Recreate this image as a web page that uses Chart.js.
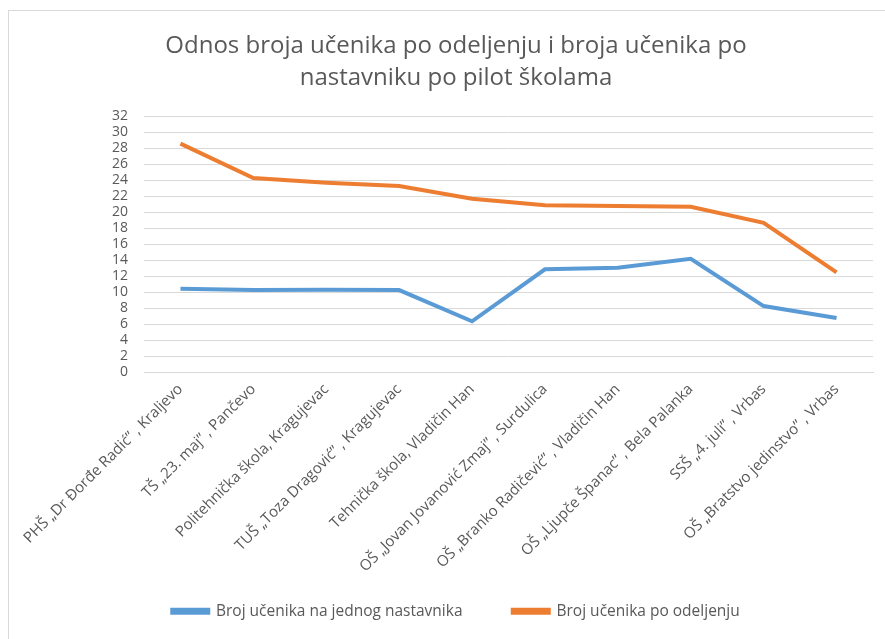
<!DOCTYPE html>
<html>
<head>
<meta charset="utf-8">
<script src="https://cdn.jsdelivr.net/npm/chart.js@4/dist/chart.umd.min.js"></script>
<style>
	html, body { margin: 0; padding: 0; background: #fff; }
	#wrap { position: relative; width: 885px; height: 639px; overflow: hidden; }
	#frame { position: absolute; left: 8px; top: 10px; width: 900px; height: 660px; border: 1px solid #d9d9d9; box-sizing: border-box; }
	canvas { position: absolute; left: 0; top: 0; }
</style>
</head>
<body>
<div id="wrap">
	<div id="frame"></div>
	<canvas id="myChart" width="885" height="639"></canvas>
</div>
<script>
let schools = [
	'PHŠ „Dr Đorđe Radić" , Kraljevo',
	'TŠ „23. maj" , Pančevo',
	'Politehnička škola, Kragujevac',
	'TUŠ „Toza Dragović" , Kragujevac',
	'Tehnička škola, Vladičin Han',
	'OŠ „Jovan Jovanović Zmaj" , Surdulica',
	'OŠ „Branko Radičević" , Vladičin Han',
	'OŠ „Ljupče Španac" , Bela Palanka',
	'SSŠ „4. juli" , Vrbas',
	'OŠ „Bratstvo jedinstvo" , Vrbas'
].map(s => s.replace(/"/g, '\u201D'));
let perTeacher = [10.45, 10.3, 10.35, 10.3, 6.4, 12.9, 13.1, 14.2, 8.3, 6.8];
let perClass = [28.6, 24.3, 23.7, 23.3, 21.7, 20.9, 20.8, 20.7, 18.7, 12.5];
let yTicks = [0, 2, 4, 6, 8, 10, 12, 14, 16, 18, 20, 22, 24, 26, 28, 30, 32];

let gray = '#595959';
let font = 'Open Sans';

function createChart() {
	let ctx = document.getElementById('myChart');
	new Chart(ctx, {
		type: 'line',
		data: {
			labels: schools,
			datasets: [{
				label: 'Broj učenika na jednog nastavnika',
				data: perTeacher,
				borderColor: '#5B9BD5',
				backgroundColor: '#5B9BD5',
				borderWidth: 4,
				pointRadius: 0,
				tension: 0
			}, {
				label: 'Broj učenika po odeljenju',
				data: perClass,
				borderColor: '#ED7D31',
				backgroundColor: '#ED7D31',
				borderWidth: 4,
				pointRadius: 0,
				tension: 0
			}]
		},
		options: {
			responsive: false,
			animation: false,
			layout: { padding: { left: 39, right: 12, top: 31, bottom: 10 } },
			plugins: {
				title: {
					display: true,
					text: ['Odnos broja učenika po odeljenju i broja učenika po', 'nastavniku po pilot školama'],
					color: gray,
					font: { family: font, size: 24, weight: 'normal', lineHeight: 1.3 },
					padding: { top: 0, bottom: 23 }
				},
				legend: {
					position: 'bottom',
					labels: {
						color: gray,
						font: { family: font, size: 15.5 },
						boxWidth: 36,
						boxHeight: 3,
						padding: 14,
						generateLabels: function (chart) {
							let items = Chart.defaults.plugins.legend.labels.generateLabels(chart);
							// extra room between the two legend entries
							items[0].text += '\u00A0'.repeat(9);
							return items;
						}
					}
				},
				tooltip: { enabled: false }
			},
			scales: {
				x: {
					offset: true,
					grid: { display: false },
					border: { color: '#d9d9d9' },
					ticks: {
						color: gray,
						font: { family: font, size: 15 },
						maxRotation: 45,
						minRotation: 45,
						padding: 0,
						autoSkip: false
					},
					afterFit: function (scale) { scale.height = 217; }
				},
				y: {
					min: 0,
					max: 32,
					afterBuildTicks: function (scale) { scale.ticks = yTicks.map(v => ({ value: v })); },
					grid: { color: '#d9d9d9', drawTicks: false },
					border: { display: false },
					ticks: {
						color: gray,
						font: { family: font, size: 14 },
						padding: 16,
						autoSkip: false
					},
					afterFit: function (scale) { scale.width = 105; }
				}
			}
		}
	});
}

createChart();
</script>
</body>
</html>
